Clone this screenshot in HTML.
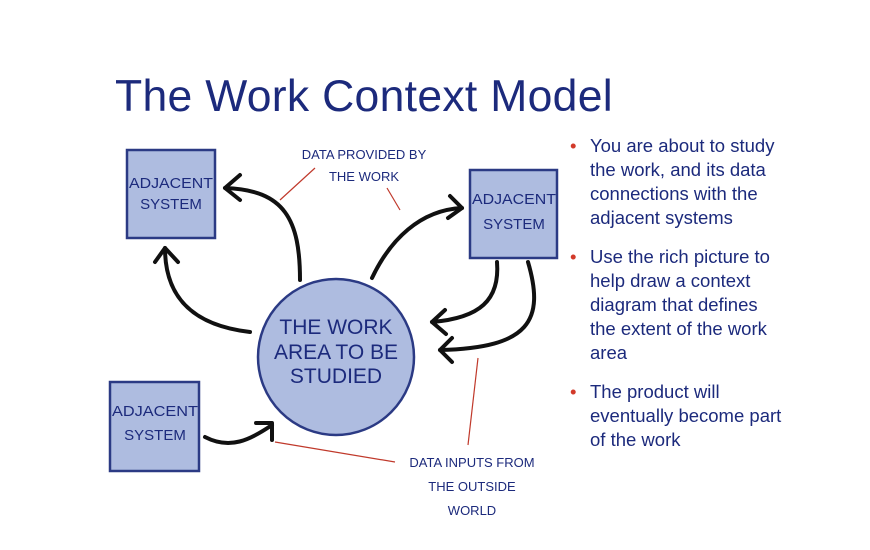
<!DOCTYPE html>
<html><head><meta charset="utf-8"><style>
body{margin:0;width:870px;height:550px;background:#fff;overflow:hidden;font-family:"Liberation Sans",sans-serif}
.t{position:absolute;left:115px;top:72px;font-size:44.5px;color:#1c2a7c;letter-spacing:0.3px}
ul{position:absolute;left:570px;top:134px;margin:0;padding:0;list-style:none;width:260px}
li{position:relative;padding-left:20px;font-size:18.5px;line-height:24px;color:#1c2a7c;margin-bottom:15px;white-space:nowrap}
li:before{content:"•";position:absolute;left:0;color:#d23a2a}
</style></head><body>
<div class="t">The Work Context Model</div>
<ul>
<li>You are about to study<br>the work, and its data<br>connections with the<br>adjacent systems</li>
<li>Use the rich picture to<br>help draw a context<br>diagram that defines<br>the extent of the work<br>area</li>
<li>The product will<br>eventually become part<br>of the work</li>
</ul>
<svg width="870" height="550" style="position:absolute;left:0;top:0" font-family="Liberation Sans, sans-serif">
<g fill="#aebce0" stroke="#2b3a84" stroke-width="2.5">
<rect x="127" y="150" width="88" height="88"/>
<rect x="470" y="170" width="87" height="88"/>
<rect x="110" y="382" width="89" height="89"/>
<circle cx="336" cy="357" r="78"/>
</g>
<g fill="#1c2a7c" font-size="15" text-anchor="middle">
<text x="171" y="188" textLength="84" lengthAdjust="spacingAndGlyphs">ADJACENT</text>
<text x="171" y="209">SYSTEM</text>
<text x="514" y="204" textLength="84" lengthAdjust="spacingAndGlyphs">ADJACENT</text>
<text x="514" y="229">SYSTEM</text>
<text x="155" y="416" textLength="86" lengthAdjust="spacingAndGlyphs">ADJACENT</text>
<text x="155" y="440">SYSTEM</text>
<g font-size="21"><text x="336" y="334">THE WORK</text><text x="336" y="359">AREA TO BE</text><text x="336" y="383">STUDIED</text></g>
<g font-size="13"><text x="364" y="159">DATA PROVIDED BY</text><text x="364" y="181">THE WORK</text>
<text x="472" y="467">DATA INPUTS FROM</text><text x="472" y="491">THE OUTSIDE</text><text x="472" y="515">WORLD</text></g>
</g>
<g stroke="#c0392b" stroke-width="1.2" fill="none">
<line x1="280" y1="200" x2="315" y2="168"/>
<line x1="387" y1="188" x2="400" y2="210"/>
<line x1="478" y1="358" x2="468" y2="445"/>
<line x1="275" y1="442" x2="395" y2="462"/>
</g>
<g stroke="#111" stroke-width="4" fill="none" stroke-linecap="round" stroke-linejoin="round">
<path d="M300 280 C300 220 285 190 225 188"/><path d="M240 175 L225 188 L240 200"/>
<path d="M250 332 C190 325 165 295 165 248"/><path d="M155 262 L165 248 L178 262"/>
<path d="M372 278 C390 240 420 210 462 208"/><path d="M450 196 L462 208 L448 218"/>
<path d="M497 262 C500 300 480 318 432 322"/><path d="M445 310 L432 322 L446 334"/>
<path d="M528 262 C545 320 530 348 440 350"/><path d="M452 338 L440 350 L452 362"/>
<path d="M205 437 C230 450 250 440 272 425"/><path d="M256 423 L272 423 L272 440"/>
</g>
</svg>
</body></html>
